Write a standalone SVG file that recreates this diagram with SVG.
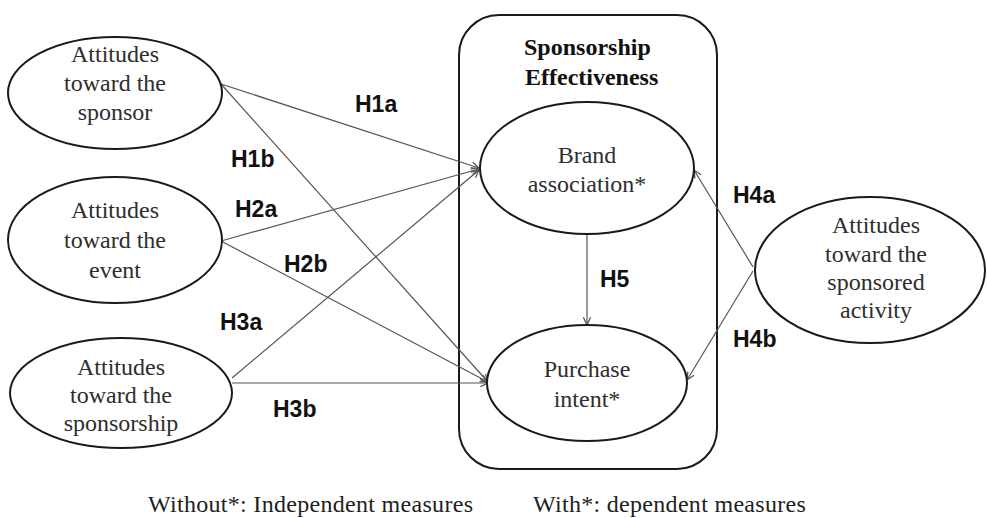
<svg xmlns="http://www.w3.org/2000/svg" width="987" height="518" viewBox="0 0 987 518">
  <style>
    .node { fill: #ffffff; stroke: #1a1a1a; stroke-width: 2; }
    .box { fill: none; stroke: #1a1a1a; stroke-width: 2; }
    .txt { font-family: "Liberation Serif", "Times New Roman", serif; font-size: 24px; fill: #2e2e2e; text-anchor: middle; }
    .title { font-family: "Liberation Serif", "Times New Roman", serif; font-size: 24px; font-weight: bold; fill: #111; }
    .lbl { font-family: "Liberation Sans", Arial, sans-serif; font-size: 23px; font-weight: bold; fill: #111; }
    .edge { stroke: #555; stroke-width: 1.2; fill: none; marker-end: url(#arrow); }
    .note { font-family: "Liberation Serif", "Times New Roman", serif; font-size: 24px; fill: #1e1e1e; letter-spacing: 0.3px; }
  </style>
  <defs>
    <marker id="arrow" viewBox="0 0 10 10" refX="9.5" refY="5" markerWidth="9" markerHeight="9" markerUnits="userSpaceOnUse" orient="auto">
      <path d="M1,1 L9.5,5 L1,9" fill="none" stroke="#555" stroke-width="1.4"/>
    </marker>
  </defs>

  <rect width="987" height="518" fill="#ffffff"/>

  <!-- container -->
  <g id="effectiveness">
    <rect class="box" x="459" y="15" width="258" height="454" rx="40" ry="40"/>
    <text class="title" x="524" y="55">Sponsorship</text>
    <text class="title" x="525" y="85">Effectiveness</text>
  </g>

  <!-- connectors -->
  <g id="connectors">
    <line class="edge" x1="221" y1="84" x2="479" y2="168"/>
    <line class="edge" x1="221" y1="84" x2="488" y2="382"/>
    <line class="edge" x1="221" y1="241" x2="479" y2="169"/>
    <line class="edge" x1="221" y1="241" x2="488" y2="382"/>
    <line class="edge" x1="232" y1="378" x2="479" y2="170"/>
    <line class="edge" x1="232" y1="383" x2="488" y2="383"/>
    <line class="edge" x1="587" y1="234" x2="587" y2="325"/>
    <line class="edge" x1="753" y1="267" x2="694" y2="170"/>
    <line class="edge" x1="753" y1="271" x2="687" y2="380"/>
  </g>

  <!-- path labels -->
  <g id="labels">
    <text class="lbl" x="355" y="112">H1a</text>
    <text class="lbl" x="231" y="167">H1b</text>
    <text class="lbl" x="235" y="217">H2a</text>
    <text class="lbl" x="284" y="272">H2b</text>
    <text class="lbl" x="220" y="330">H3a</text>
    <text class="lbl" x="273" y="417">H3b</text>
    <text class="lbl" x="600" y="287">H5</text>
    <text class="lbl" x="733" y="203">H4a</text>
    <text class="lbl" x="733" y="347">H4b</text>
  </g>

  <g id="sponsor">
    <ellipse class="node" cx="115" cy="93" rx="107" ry="56"/>
    <text class="txt" x="115" y="62">Attitudes</text>
    <text class="txt" x="115" y="91">toward the</text>
    <text class="txt" x="115" y="120">sponsor</text>
  </g>

  <g id="event">
    <ellipse class="node" cx="115" cy="240" rx="107" ry="63"/>
    <text class="txt" x="115" y="218">Attitudes</text>
    <text class="txt" x="115" y="248">toward the</text>
    <text class="txt" x="115" y="278">event</text>
  </g>

  <g id="sponsorship">
    <ellipse class="node" cx="121" cy="393" rx="111" ry="55"/>
    <text class="txt" x="121" y="375">Attitudes</text>
    <text class="txt" x="121" y="403">toward the</text>
    <text class="txt" x="121" y="431">sponsorship</text>
  </g>

  <g id="brand">
    <ellipse class="node" cx="587" cy="168" rx="107" ry="66"/>
    <text class="txt" x="587" y="163">Brand</text>
    <text class="txt" x="587" y="192">association*</text>
  </g>

  <g id="purchase">
    <ellipse class="node" cx="587" cy="383" rx="100" ry="58"/>
    <text class="txt" x="587" y="377">Purchase</text>
    <text class="txt" x="587" y="407">intent*</text>
  </g>

  <g id="activity">
    <ellipse class="node" cx="870" cy="270" rx="115" ry="73"/>
    <text class="txt" x="876" y="233">Attitudes</text>
    <text class="txt" x="876" y="262">toward the</text>
    <text class="txt" x="876" y="290">sponsored</text>
    <text class="txt" x="876" y="318">activity</text>
  </g>

  <!-- footnote -->
  <text class="note" x="148" y="512">Without*: Independent measures</text>
  <text class="note" x="533" y="512">With*: dependent measures</text>
</svg>
